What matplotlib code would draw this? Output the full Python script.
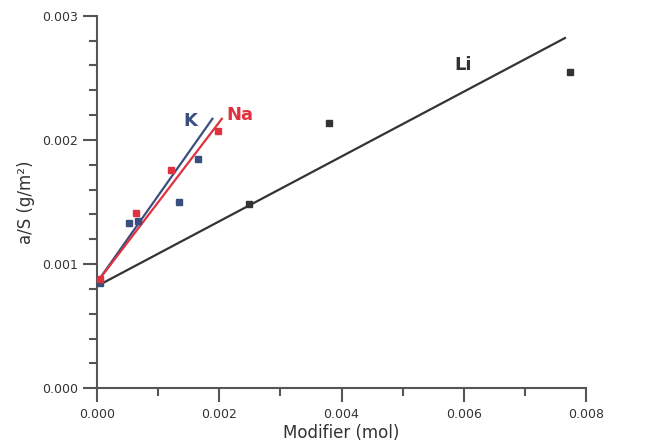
import matplotlib
matplotlib.use("Agg")
import matplotlib.pyplot as plt
from matplotlib.ticker import MultipleLocator, FormatStrFormatter

# Data
li_x = [0.00248, 0.0038, 0.00775]
li_y = [0.00148, 0.00214, 0.00255]
na_x = [0.00005, 0.00063, 0.00121, 0.00198]
na_y = [0.000878, 0.00141, 0.00176, 0.00207]
k_x = [0.00005, 0.00052, 0.00067, 0.00134, 0.00165]
k_y = [0.000845, 0.00133, 0.00135, 0.00150, 0.00185]

# fitted lines (end points)
li_fit_x = [0.0, 0.00766]
li_fit_y = [0.000824, 0.00282]
na_fit_x = [0.0, 0.00204]
na_fit_y = [0.000856, 0.00217]
k_fit_x = [0.0, 0.001885]
k_fit_y = [0.000856, 0.00217]

c_li = "#333333"
c_na = "#e0313f"
c_k = "#3b4f7e"

fig = plt.figure(figsize=(6.7, 4.46), dpi=100)
ax = fig.add_axes([97.3/670, 57.7/446, (585.7-97.3)/670, (388.3-15.7)/446])

ax.plot(li_fit_x, li_fit_y, color=c_li, lw=1.6, zorder=2)
ax.plot(k_fit_x, k_fit_y, color=c_k, lw=1.6, zorder=2)
ax.plot(na_fit_x, na_fit_y, color=c_na, lw=1.6, zorder=2)

ax.plot(li_x, li_y, "s", color=c_li, ms=4.5, ls="none", zorder=3, clip_on=False)
ax.plot(k_x, k_y, "s", color=c_k, ms=4.5, ls="none", zorder=3, clip_on=False)
ax.plot(na_x, na_y, "s", color=c_na, ms=4.5, ls="none", zorder=4, clip_on=False)

ax.text(0.00152, 0.00215, "K", color=c_k, fontsize=13, fontweight="semibold",
        ha="center", va="center")
ax.text(0.00234, 0.00220, "Na", color=c_na, fontsize=13, fontweight="semibold",
        ha="center", va="center")
ax.text(0.0060, 0.00260, "Li", color=c_li, fontsize=13, fontweight="semibold",
        ha="center", va="center")

ax.set_xlim(0, 0.008)
ax.set_ylim(0, 0.003)
ax.xaxis.set_major_locator(MultipleLocator(0.002))
ax.xaxis.set_minor_locator(MultipleLocator(0.001))
ax.yaxis.set_major_locator(MultipleLocator(0.001))
ax.yaxis.set_minor_locator(MultipleLocator(0.0002))
ax.xaxis.set_major_formatter(FormatStrFormatter("%.3f"))
ax.yaxis.set_major_formatter(FormatStrFormatter("%.3f"))

for s in ["top", "right"]:
    ax.spines[s].set_visible(False)
for s in ["left", "bottom"]:
    ax.spines[s].set_color("#555555")
    ax.spines[s].set_linewidth(1.5)

ax.tick_params(which="major", direction="out", length=10, width=1.5,
               color="#555555", labelsize=9, labelcolor="#333333", pad=4)
ax.tick_params(which="minor", direction="out", length=6, width=1.5,
               color="#555555")

ax.set_xlabel("Modifier (mol)", fontsize=12, color="#333333", labelpad=2)
ax.set_ylabel("a/S (g/m²)", fontsize=12, color="#333333", labelpad=5)

fig.savefig("out.png", dpi=100)
